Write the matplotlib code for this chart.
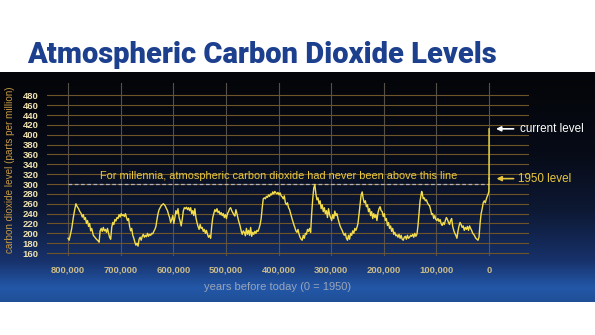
import numpy as np
import matplotlib
matplotlib.use("Agg")
import matplotlib.pyplot as plt
from matplotlib.colors import LinearSegmentedColormap

# CO2 record, thousands of years before 1950 / ppm
age_kyr = [800, 798, 796, 793, 790, 787, 785, 783, 780, 778, 775, 773, 771, 769, 767, 765,
           763, 761, 759, 757, 755, 752, 749, 746, 743, 741, 739, 737, 735, 733, 731, 729,
           727, 725, 723, 721, 719, 717, 715, 713, 711, 709, 707, 705, 703, 701, 699, 697,
           695, 693, 691, 689, 687, 685, 683, 681, 679, 677, 675, 673, 671, 669, 667, 665,
           663, 661, 659, 657, 655, 653, 651, 649, 647, 645, 643, 641, 639, 637, 635, 633,
           631, 629, 627, 625, 623, 621, 619, 617, 615, 613, 611, 609, 607, 605, 603, 601,
           599, 597, 595, 593, 591, 589, 587, 585, 583, 581, 579, 577, 575, 573, 571, 569,
           567, 565, 563, 561, 559, 557, 555, 553, 551, 549, 547, 545, 543, 541, 539, 537,
           535, 533, 531, 529, 527, 525, 523, 521, 519, 517, 515, 513, 511, 509, 507, 505,
           503, 501, 499, 497, 495, 493, 491, 489, 487, 485, 483, 481, 479, 477, 475, 473,
           471, 469, 467, 465, 463, 461, 459, 457, 455, 453, 451, 449, 447, 445, 443, 441,
           439, 437, 435, 433, 431, 429, 427, 425, 423, 421, 419, 417, 415, 413, 411, 409,
           407, 405, 403, 401, 399, 397, 395, 393, 391, 389, 387, 385, 383, 381, 379, 377,
           375, 373, 371, 369, 367, 365, 363, 361, 359, 357, 355, 353, 351, 349, 347, 345,
           343, 341, 339, 337, 335, 333, 331, 329, 327, 325, 323, 321, 319, 317, 315, 313,
           311, 309, 307, 305, 303, 301, 299, 297, 295, 293, 291, 289, 287, 285, 283, 281,
           279, 277, 275, 273, 271, 269, 267, 265, 263, 261, 259, 257, 255, 253, 251, 249,
           247, 245, 243, 241, 239, 237, 235, 233, 231, 229, 227, 225, 223, 221, 219, 217,
           215, 213, 211, 209, 207, 205, 203, 201, 199, 197, 195, 193, 191, 189, 187, 185,
           183, 181, 179, 177, 175, 173, 171, 169, 167, 165, 163, 161, 159, 157, 155, 153,
           151, 149, 147, 145, 143, 141, 139, 137, 135, 133, 131, 129, 128, 127, 126, 125,
           123, 121, 119, 117, 115, 113, 111, 109, 107, 105, 103, 101, 99, 97, 95, 93,
           91, 89, 87, 85, 83, 81, 79, 77, 75, 73, 71, 69, 67, 65, 63, 61,
           59, 57, 55, 53, 51, 49, 47, 45, 43, 41, 39, 37, 35, 33, 31, 29,
           27, 25, 23, 21, 19, 17, 15, 13, 11, 9, 7, 5, 3, 2, 1, 0.3,
           0.1, 0]
co2_ppm = [190, 186, 195, 210, 232, 250, 260, 255, 250, 245, 240, 233, 238, 228, 232, 220,
           226, 214, 220, 205, 210, 196, 192, 188, 185, 182, 205, 210, 204, 212, 205, 208,
           202, 210, 200, 192, 188, 212, 222, 218, 228, 225, 232, 230, 238, 233, 240, 236,
           238, 234, 240, 232, 226, 230, 214, 205, 210, 196, 190, 182, 176, 180, 174, 188,
           192, 186, 194, 198, 192, 196, 193, 200, 194, 198, 196, 200, 199, 204, 208, 214,
           228, 240, 248, 252, 256, 258, 260, 258, 255, 250, 246, 238, 232, 222, 228, 236,
           220, 232, 246, 240, 250, 232, 225, 215, 228, 245, 252, 250, 253, 248, 252, 246,
           252, 240, 246, 236, 250, 232, 222, 214, 208, 218, 210, 212, 204, 208, 200, 206,
           198, 192, 196, 190, 214, 232, 240, 248, 244, 250, 242, 245, 238, 242, 236, 240,
           232, 238, 230, 240, 244, 250, 252, 246, 242, 238, 235, 248, 240, 230, 222, 215,
           205, 198, 205, 202, 195, 210, 198, 206, 196, 212, 194, 202, 198, 204, 200, 206,
           204, 210, 218, 230, 252, 270, 272, 270, 275, 273, 278, 275, 280, 278, 284, 280,
           285, 282, 280, 283, 278, 282, 276, 274, 270, 276, 262, 258, 262, 252, 248, 240,
           232, 225, 218, 212, 205, 202, 208, 198, 192, 188, 186, 196, 190, 200, 198, 208,
           204, 210, 202, 240, 270, 292, 299, 280, 268, 272, 260, 266, 250, 258, 244, 252,
           240, 246, 232, 250, 238, 232, 226, 238, 230, 245, 236, 240, 230, 222, 215, 210,
           206, 200, 196, 200, 190, 186, 196, 188, 200, 196, 205, 200, 210, 206, 212, 220,
           240, 262, 278, 284, 270, 262, 266, 254, 258, 244, 250, 236, 244, 230, 240, 232,
           238, 226, 242, 250, 254, 246, 244, 234, 240, 226, 230, 216, 222, 210, 215, 204,
           210, 198, 202, 195, 197, 192, 198, 190, 196, 188, 186, 192, 194, 188, 196, 190,
           192, 196, 194, 198, 192, 200, 194, 198, 215, 240, 266, 278, 285, 282, 276, 270,
           272, 266, 268, 262, 258, 256, 248, 238, 240, 230, 236, 228, 226, 230, 224, 228,
           220, 216, 222, 218, 226, 232, 228, 222, 218, 226, 230, 214, 206, 200, 196, 190,
           204, 215, 222, 218, 212, 215, 206, 212, 208, 214, 206, 215, 210, 206, 200, 198,
           194, 190, 188, 186, 192, 220, 240, 250, 262, 266, 262, 270, 276, 278, 282, 285,
           300, 311]
current_age = -0.07
current_ppm = 412
level_1950 = 311
threshold = 300

yticks = list(range(160, 481, 20))
xticks = list(range(0, 800001, 100000))

W, H = 595, 335
fig = plt.figure(figsize=(W / 100, H / 100), dpi=100)
fig.patch.set_facecolor("white")
plt.rcParams["font.family"] = ["Liberation Sans", "DejaVu Sans"]

def fx(px):
    return px / W

def fy(py):
    return 1 - py / H

# dark panel with a vertical gradient
bg = fig.add_axes([0, fy(302), 1, (302 - 72) / H])
grad = np.repeat(np.linspace(0, 1, 256).reshape(-1, 1), 4, axis=1)
cmap = LinearSegmentedColormap.from_list(
    "sky", [(0, "#040508"), (0.35, "#070b17"), (0.6, "#0d1833"),
            (0.82, "#17316a"), (0.94, "#2358a8"), (1, "#1f4f97")])
bg.imshow(grad, aspect="auto", cmap=cmap, extent=[0, 1, 1, 0], interpolation="bilinear")
bg.set_xlim(0, 1)
bg.set_ylim(1, 0)
bg.axis("off")

fig.text(fx(262), fy(55), "Atmospheric Carbon Dioxide Levels", ha="center", va="center",
         fontsize=21, fontweight="black", color="#1c3f8e", family="Roboto")

ax = fig.add_axes([fx(47), fy(256), fx(529) - fx(47), (256 - 83) / H])
ax.patch.set_visible(False)
for s in ax.spines.values():
    s.set_visible(False)
ax.set_xlim(840, -76)
ax.set_ylim(154, 505)

for y in yticks:
    ax.axhline(y, color="#6e5426", lw=0.8, zorder=1)
for x in xticks:
    ax.axvline(x / 1000, color="#5f5a50", lw=0.8, alpha=0.9, zorder=1)

ax.set_yticks(yticks)
ax.set_xticks([x / 1000 for x in xticks])
ax.set_xticklabels([f"{x:,}" for x in xticks])
ax.tick_params(axis="y", length=0, pad=6, labelsize=6.8, labelcolor="#efe2b0")
ax.tick_params(axis="x", length=0, pad=7, labelsize=6.8, labelcolor="#c9bb8a")
for lab in ax.get_xticklabels() + ax.get_yticklabels():
    lab.set_fontweight("bold")

ax.plot([800, 0], [threshold, threshold], color="#b0b0b8", lw=0.9, ls=(0, (3, 2)), zorder=2)
ax.plot(age_kyr, co2_ppm, color="#f4de4c", lw=1.0, zorder=3)
ax.plot([0, current_age], [level_1950, current_ppm], color="#f4de4c", lw=1.0, zorder=3)

ax.text(400, 317, "For millennia, atmospheric carbon dioxide had never been above this line",
        ha="center", va="center", fontsize=7.9, color="#e9c83e")

ax.annotate("", xy=(-8, current_ppm), xytext=(-52, current_ppm),
            arrowprops=dict(arrowstyle="-|>", color="white", lw=1.2, mutation_scale=7))
ax.text(-58, current_ppm, "current level", ha="left", va="center", fontsize=8.4, color="white")
ax.annotate("", xy=(-9, level_1950), xytext=(-52, level_1950),
            arrowprops=dict(arrowstyle="-|>", color="#e9c83e", lw=1.2, mutation_scale=7))
ax.text(-56, level_1950, "1950 level", ha="left", va="center", fontsize=8.4, color="#e9c83e")

fig.text(fx(278), fy(287), "years before today (0 = 1950)", ha="center", va="center",
         fontsize=8, color="#9aa3b8")
fig.text(fx(10), fy(170), "carbon dioxide level (parts per million)", rotation=90,
         ha="center", va="center", fontsize=7.1, color="#c79a44")

fig.savefig("out.png", dpi=100, facecolor=fig.get_facecolor())
